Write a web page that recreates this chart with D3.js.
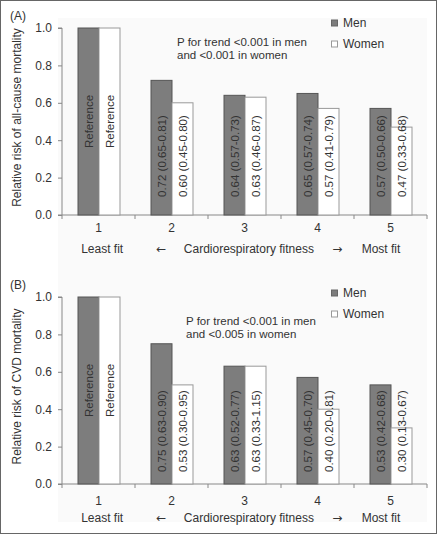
<!DOCTYPE html>
<html><head><meta charset="utf-8">
<script src="https://cdn.jsdelivr.net/npm/d3@7"></script>
<style>body{margin:0;background:#fff}svg text{font-family:"Liberation Sans",Arial,sans-serif;fill:#333}</style>
</head><body><svg id="c" width="437" height="534"></svg>
<script>
const categories = ["1","2","3","4","5"];
const seriesNames = ["Men","Women"];
const menAll = [1.00,0.72,0.64,0.65,0.57];
const womenAll = [1.00,0.60,0.63,0.57,0.47];
const menAllLabels = ["Reference","0.72 (0.65-0.81)","0.64 (0.57-0.73)","0.65 (0.57-0.74)","0.57 (0.50-0.66)"];
const womenAllLabels = ["Reference","0.60 (0.45-0.80)","0.63 (0.46-0.87)","0.57 (0.41-0.79)","0.47 (0.33-0.68)"];
const menCvd = [1.00,0.75,0.63,0.57,0.53];
const womenCvd = [1.00,0.53,0.63,0.40,0.30];
const menCvdLabels = ["Reference","0.75 (0.63-0.90)","0.63 (0.52-0.77)","0.57 (0.45-0.70)","0.53 (0.42-0.68)"];
const womenCvdLabels = ["Reference","0.53 (0.30-0.95)","0.63 (0.33-1.15)","0.40 (0.20-0.81)","0.30 (0.13-0.67)"];
const yTicks = [0,0.2,0.4,0.6,0.8,1.0];
const xTitleTexts = ["Least fit","\u2190","Cardiorespiratory fitness","\u2192","Most fit"];
const xTitlePos = [1.05,1.86,3.06,4.27,4.87];

const svg = d3.select("#c");
svg.append("rect").attr("x",0.5).attr("y",0.5).attr("width",436).attr("height",533).attr("fill","#fff").attr("stroke","#666");
svg.append("rect").attr("x",58).attr("y",18).attr("width",369).attr("height",504).attr("fill","#fafafa");

const x = d3.scaleBand().domain(categories).range([62,427]);
const xc = d3.scaleLinear().domain([0.5,5.5]).range([62,427]);

function panel(o){
  const y = d3.scaleLinear().domain([0,1]).range([o.y0,o.y1]);
  const g = svg.append("g");
  g.append("text").attr("x",10).attr("y",o.y1-8).attr("font-size",12).text(o.tag);
  const ya = g.append("g").attr("transform","translate(62,0)").call(d3.axisLeft(y).tickValues(yTicks).tickFormat(d3.format(".1f")).tickSize(4).tickPadding(6));
  ya.select(".domain").attr("stroke","#888").attr("d",`M-4,${o.y1}H0V${o.y0}H-4`);
  ya.selectAll(".tick line").attr("stroke","#888");
  ya.selectAll(".tick text").attr("font-size",12).attr("fill","#333").attr("font-family","Liberation Sans, Arial, sans-serif");
  const xg = g.append("g").attr("transform",`translate(0,${o.y0})`);
  xg.append("line").attr("x1",62).attr("x2",427).attr("stroke","#888");
  xg.selectAll("line.t").data(d3.range(6)).join("line").attr("class","t")
    .attr("x1",i=>62+i*x.step()).attr("x2",i=>62+i*x.step()).attr("y1",0).attr("y2",4).attr("stroke","#888");
  xg.selectAll("text").data(categories).join("text").attr("x",d=>x(d)+x.bandwidth()/2).attr("y",o.catY-o.y0)
    .attr("text-anchor","middle").attr("font-size",12).text(d=>d);
  g.selectAll("text.xt").data(xTitleTexts).join("text").attr("class","xt")
    .attr("x",(d,i)=>xc(xTitlePos[i])).attr("y",o.titleY).attr("text-anchor","middle")
    .attr("font-size",12).style("font-family",(d,i)=>(i===1||i===3)?"DejaVu Sans, sans-serif":null).text(d=>d);
  g.append("text").attr("transform",`translate(21,${(o.y0+o.y1)/2-4}) rotate(-90)`).attr("text-anchor","middle").attr("font-size",12).text(o.ylabel);
  const bw = 21;
  const series = [
    {vals:o.men, labels:o.menL, off:16, fill:"#7d7d7d", stroke:"#555"},
    {vals:o.women, labels:o.womenL, off:37, fill:"#fff", stroke:"#999"}
  ];
  series.forEach(s=>{
    g.selectAll(null).data(categories).join("rect")
      .attr("x",d=>x(d)+s.off).attr("y",(d,i)=>y(s.vals[i])).attr("width",bw).attr("height",(d,i)=>o.y0-y(s.vals[i]))
      .attr("fill",s.fill).attr("stroke",s.stroke);
    g.selectAll(null).data(categories).join("text")
      .attr("transform",(d,i)=>{
        const cx = x(d)+s.off+bw/2;
        const cy = i===0 ? (y(s.vals[i])+o.y0)/2 : o.y0-o.labOff;
        return `translate(${cx},${cy}) rotate(-90)`;
      })
      .attr("text-anchor",(d,i)=>i===0?"middle":"start").attr("dominant-baseline","central")
      .attr("font-size",11.5).text((d,i)=>s.labels[i]);
  });
  const lg = g.append("g");
  seriesNames.forEach((n,i)=>{
    lg.append("rect").attr("x",331.5).attr("y",o.legY+i*21-3).attr("width",6).attr("height",6)
      .attr("fill",i===0?"#7d7d7d":"#fff").attr("stroke",i===0?"#666":"#999");
    lg.append("text").attr("x",343).attr("y",o.legY+i*21).attr("dominant-baseline","central").attr("font-size",12).text(n);
  });
  o.pText.forEach((t,i)=>{
    g.append("text").attr("x",o.pX).attr("y",o.pY+i*13).attr("dominant-baseline","central").attr("font-size",11.5).text(t);
  });
}

panel({tag:"(A)",y0:215,y1:28,catY:232,titleY:253,ylabel:"Relative risk of all-cause mortality",
  men:menAll,women:womenAll,menL:menAllLabels,womenL:womenAllLabels,labOff:18,legY:23,
  pText:["P for trend <0.001 in men","and <0.001 in women"],pX:177,pY:42});
panel({tag:"(B)",y0:484,y1:297,catY:505,titleY:522,ylabel:"Relative risk of CVD mortality",
  men:menCvd,women:womenCvd,menL:menCvdLabels,womenL:womenCvdLabels,labOff:12,legY:293,
  pText:["P for trend <0.001 in men","and <0.005 in women"],pX:186,pY:321});
</script></body></html>
